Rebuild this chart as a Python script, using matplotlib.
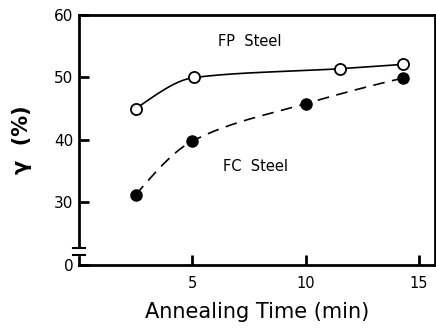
import numpy as np
import matplotlib.pyplot as plt
import matplotlib.transforms as mtransforms

# annealing time (min) and gamma (%)
fp_time = [2.5, 5.1, 11.5, 14.3]
fp_gamma = [45.0, 50.0, 51.4, 52.1]
fc_time = [2.5, 5.0, 10.0, 14.3]
fc_gamma = [31.2, 39.8, 45.8, 49.9]

x_ticks = [5, 10, 15]
y_ticks = [20, 30, 40, 50, 60]
y_ticklabels = ['0', '30', '40', '50', '60']


def smooth_curve(xs, ys, n=200):
    # monotone cubic (Fritsch-Carlson) through the measured points
    xs = np.asarray(xs, float)
    ys = np.asarray(ys, float)
    h = np.diff(xs)
    d = np.diff(ys) / h
    m = np.zeros(len(xs))
    m[0] = ((2 * h[0] + h[1]) * d[0] - h[0] * d[1]) / (h[0] + h[1])
    m[-1] = ((2 * h[-1] + h[-2]) * d[-1] - h[-1] * d[-2]) / (h[-1] + h[-2])
    for i in range(1, len(xs) - 1):
        if d[i - 1] * d[i] > 0:
            w1 = 2 * h[i] + h[i - 1]
            w2 = h[i] + 2 * h[i - 1]
            m[i] = (w1 + w2) / (w1 / d[i - 1] + w2 / d[i])
    xx = np.linspace(xs[0], xs[-1], n)
    j = np.clip(np.searchsorted(xs, xx) - 1, 0, len(xs) - 2)
    t = (xx - xs[j]) / h[j]
    h00 = 2 * t**3 - 3 * t**2 + 1
    h10 = t**3 - 2 * t**2 + t
    h01 = -2 * t**3 + 3 * t**2
    h11 = t**3 - t**2
    yy = h00 * ys[j] + h10 * h[j] * m[j] + h01 * ys[j + 1] + h11 * h[j] * m[j + 1]
    return xx, yy


plt.rcParams['font.family'] = 'DejaVu Sans'
fig = plt.figure(figsize=(4.36, 3.34), dpi=100)
ax = fig.add_axes([0.181, 0.207, 0.816, 0.748])

sx, sy = smooth_curve(fp_time, fp_gamma)
ax.plot(sx, sy, color='black', lw=1.2, zorder=2)
sx, sy = smooth_curve(fc_time, fc_gamma)
ax.plot(sx, sy, color='black', lw=1.2, ls=(0, (7, 4.5)), zorder=2)

ax.plot(fp_time, fp_gamma, 'o', ms=8, mfc='white', mec='black', mew=1.3, zorder=3)
ax.plot(fc_time, fc_gamma, 'o', ms=8, mfc='black', mec='black', zorder=3)

ax.text(7.55, 55.7, 'FP  Steel', ha='center', va='center', fontsize=10.5)
ax.text(7.8, 35.7, 'FC  Steel', ha='center', va='center', fontsize=10.5)

ax.set_xlim(0, 15.7)
ax.set_ylim(20, 60)
ax.set_xticks(x_ticks)
ax.set_yticks(y_ticks)
ax.set_yticklabels(y_ticklabels)
ax.tick_params(direction='in', length=7, width=2, labelsize=11, pad=4)
ax.tick_params(axis='x', labelsize=10.5, pad=8)
for s in ax.spines.values():
    s.set_linewidth(2)

# axis break just above zero
trans = mtransforms.blended_transform_factory(ax.transAxes, ax.transData)
ax.fill_between([-0.012, 0.012], 21.5, 22.7, color='white', transform=trans,
                clip_on=False, zorder=5)
for yb in (21.5, 22.7):
    ax.plot([-0.018, 0.018], [yb, yb], color='black', lw=1.5, transform=trans,
            clip_on=False, zorder=6)

ax.set_xlabel('Annealing Time (min)', fontsize=15, labelpad=8)
ax.set_ylabel('γ  (%)', fontsize=15, fontweight='bold', labelpad=16)

fig.savefig('out.png', dpi=100)
